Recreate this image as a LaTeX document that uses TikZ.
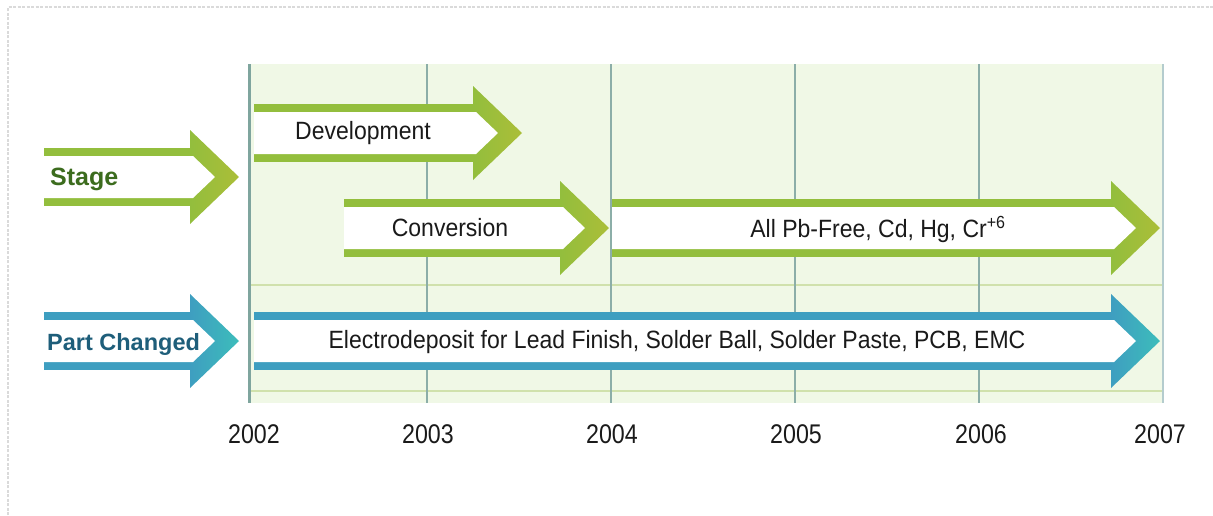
\documentclass[tikz,border=0pt]{standalone}
\usepackage{fontspec}
\setmainfont{Liberation Sans}
\newfontfamily\condfont{Liberation Sans}[FakeStretch=0.92]
\newfontfamily\yearfont{Liberation Sans}[FakeStretch=0.86]

\definecolor{stagegreen}{HTML}{93BE3D}
\definecolor{stagetip}{HTML}{ABBE38}
\definecolor{partblue}{HTML}{3E9EC0}
\definecolor{parttip}{HTML}{3DBDBB}
\definecolor{chartbg}{HTML}{F0F8E6}
\definecolor{gridv}{HTML}{8CAEA8}
\definecolor{gridh}{HTML}{D0E1AC}
\definecolor{axisline}{HTML}{7FA59E}
\definecolor{lastline}{HTML}{B4CCCE}
\definecolor{stagetext}{HTML}{3C6C1E}
\definecolor{parttext}{HTML}{1E5E7A}
\definecolor{framegray}{HTML}{DADADA}
\definecolor{bodytext}{HTML}{1A1A1A}

% Notched arrow: #1 left x, #2 x of the head base, #3 centre y,
% #4 band colour, #5 colour towards the tip
\newcommand\notcharrow[5]{%
  \fill[#4] (#1,#3-29) -- (#2,#3-29) -- (#2,#3+29) -- (#1,#3+29) -- cycle;
  \shade[left color=#4,right color=#5]
    (#2,#3-47) -- (#2+49,#3) -- (#2,#3+47) -- cycle;
  \fill[white] (#1,#3-21) -- (#2+3,#3-21) -- (#2+25,#3)
    -- (#2+3,#3+21) -- (#1,#3+21) -- cycle;
}

\tikzset{
  rowlabel/.style={anchor=west,inner sep=0pt,font=\fontsize{23.5}{26}\selectfont\bfseries},
  bartext/.style={inner sep=0pt,text=bodytext,font=\condfont\fontsize{25}{28}\selectfont},
  yearlabel/.style={inner sep=0pt,text=bodytext,font=\yearfont\fontsize{27}{30}\selectfont},
  vgrid/.style={draw=gridv,line width=1.3pt},
  hgrid/.style={draw=gridh,line width=1.5pt}
}

\begin{document}
\begin{tikzpicture}[x=1pt,y=-1pt]
  \useasboundingbox (0,0) rectangle (1213,515);

  % outer frame (top and left edges)
  \draw[framegray,line width=1.5pt,dash pattern=on 3pt off 1.5pt]
    (8,515) -- (8,7) -- (1213,7);

  % chart area
  \fill[chartbg] (250,64) rectangle (1164,403);
  \draw[hgrid] (251,285) -- (1163,285);
  \draw[hgrid] (251,391) -- (1163,391);
  \foreach \x in {427,611,795,979}
    \draw[vgrid] (\x,64) -- (\x,403);
  \draw[lastline,line width=2pt] (1163,64) -- (1163,403);
  \draw[axisline,line width=3pt] (249.5,64) -- (249.5,403);

  % row headers
  \notcharrow{44}{190}{177}{stagegreen}{stagetip}
  \notcharrow{44}{190}{341}{partblue}{parttip}
  \node[rowlabel,text=stagetext,font=\fontsize{25}{28}\selectfont\bfseries] (stage) at (50,179) {Stage};
  \node[rowlabel,text=parttext] (partchg) at (47,344) {Part Changed};

  % stage bars
  \notcharrow{254}{473}{133}{stagegreen}{stagetip}
  \notcharrow{344}{560}{228}{stagegreen}{stagetip}
  \notcharrow{612}{1111}{228}{stagegreen}{stagetip}
  \node[bartext] (dev) at (363,133) {Development};
  \node[bartext] (conv) at (450,228) {Conversion};
  \node[bartext] (allpb) at (878,229) {All Pb-Free, Cd, Hg, Cr\textsuperscript{+6}};

  % part bar
  \notcharrow{254}{1111}{341}{partblue}{parttip}
  \node[bartext] (elec) at (677,342) {Electrodeposit for Lead Finish, Solder Ball, Solder Paste, PCB, EMC};

  % years
  \node[yearlabel] (y2002) at (254,434) {2002};
  \node[yearlabel] (y2003) at (428,434) {2003};
  \node[yearlabel] (y2004) at (612,434) {2004};
  \node[yearlabel] (y2005) at (796,434) {2005};
  \node[yearlabel] (y2006) at (981,434) {2006};
  \node[yearlabel] (y2007) at (1160,434) {2007};
\end{tikzpicture}
\end{document}
